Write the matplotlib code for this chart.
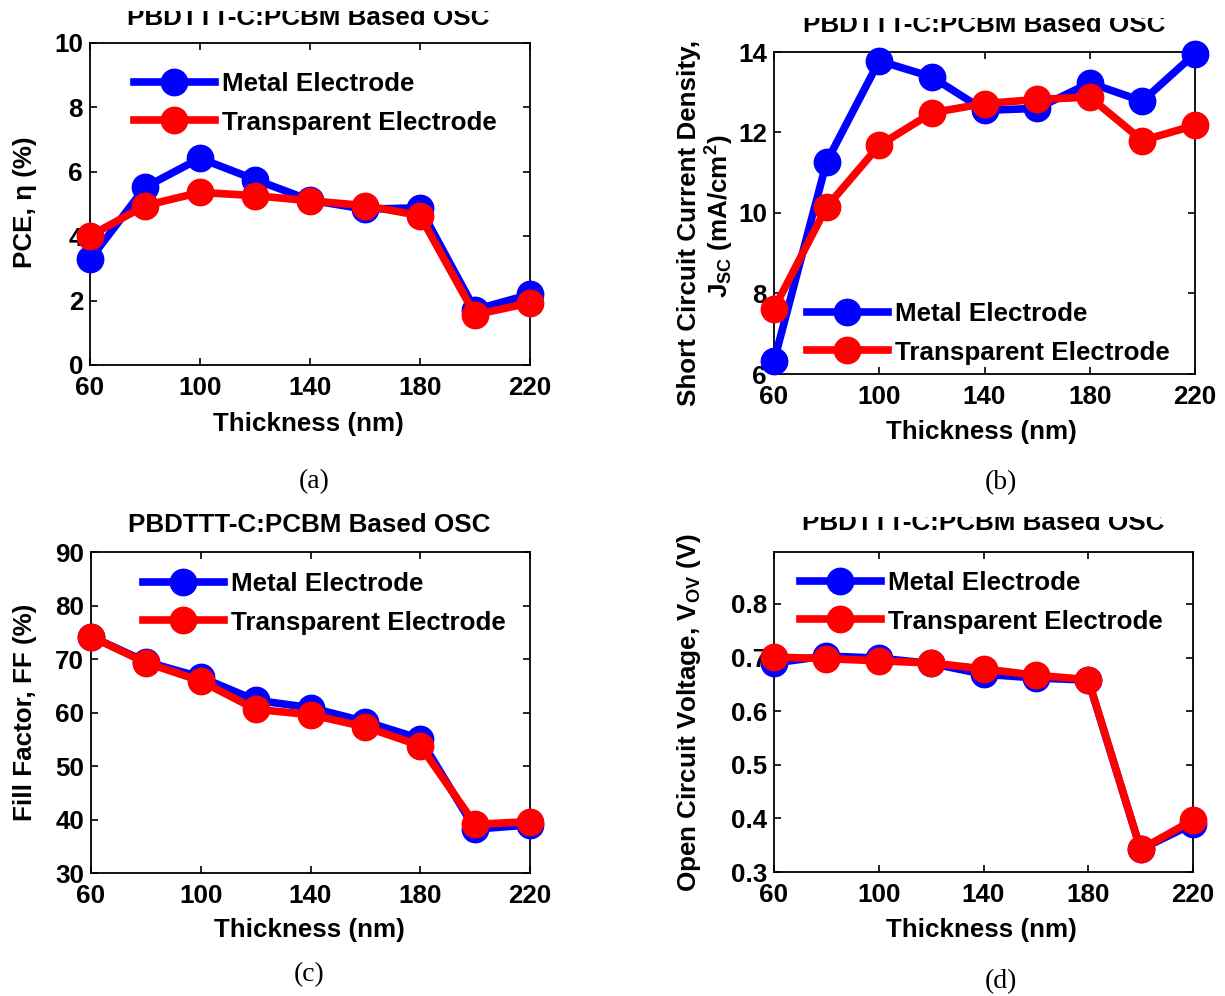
import matplotlib
matplotlib.use("Agg")
import matplotlib.pyplot as plt
from matplotlib.patches import Rectangle

# ---------------- data ----------------
thickness = [60, 80, 100, 120, 140, 160, 180, 200, 220]

pce_metal = [3.28, 5.52, 6.42, 5.76, 5.12, 4.84, 4.88, 1.72, 2.19]
pce_transparent = [4.01, 4.95, 5.36, 5.26, 5.10, 4.95, 4.64, 1.56, 1.93]

jsc_metal = [6.32, 11.27, 13.78, 13.38, 12.55, 12.60, 13.23, 12.78, 13.96]
jsc_transparent = [7.62, 10.15, 11.68, 12.49, 12.72, 12.82, 12.88, 11.80, 12.18]

ff_metal = [74.2, 69.5, 66.6, 62.3, 60.9, 58.3, 55.1, 38.2, 39.0]
ff_transparent = [74.2, 69.3, 65.9, 60.6, 59.6, 57.3, 53.8, 39.1, 39.6]

voc_metal = [0.690, 0.703, 0.699, 0.689, 0.669, 0.662, 0.658, 0.342, 0.390]
voc_transparent = [0.701, 0.698, 0.694, 0.690, 0.679, 0.667, 0.659, 0.342, 0.397]

series_labels = ["Metal Electrode", "Transparent Electrode"]
title_text = "PBDTTT-C:PCBM Based OSC"
x_ticks = [60, 100, 140, 180, 220]

# ---------------- style ----------------
plt.rcParams["font.family"] = ["Liberation Sans", "DejaVu Sans"]
plt.rcParams["font.weight"] = "bold"
plt.rcParams["mathtext.fontset"] = "custom"
plt.rcParams["mathtext.rm"] = "Liberation Sans:bold"
plt.rcParams["mathtext.it"] = "Liberation Sans:bold"
plt.rcParams["mathtext.bf"] = "Liberation Sans:bold"

W, H = 1225, 996
fig = plt.figure(figsize=(W / 100, H / 100), dpi=100)
FS = 18.7


def fx(px):
    return px / W


def fy(py):
    return 1 - py / H


def make_axes(l, t, r, b):
    return fig.add_axes([l / W, 1 - b / H, (r - l) / W, (b - t) / H])


def panel(box, metal, transp, ylim, yticks, yfmt, leg_xy):
    ax = make_axes(*box)
    ax.plot(thickness, metal, "-o", color="#0000FF", lw=5.5, ms=19,
            mec="#0000FF", mfc="#0000FF", clip_on=False, label=series_labels[0], zorder=3)
    ax.plot(thickness, transp, "-o", color="#FF0000", lw=5.5, ms=19,
            mec="#FF0000", mfc="#FF0000", clip_on=False, label=series_labels[1], zorder=4)
    ax.set_xlim(60, 220)
    ax.set_ylim(*ylim)
    ax.set_xticks(x_ticks)
    ax.set_yticks(yticks)
    ax.set_yticklabels([yfmt(v) for v in yticks])
    ax.tick_params(direction="in", top=True, right=True, length=5, width=1.2,
                   labelsize=FS)
    ax.tick_params(axis="x", pad=8)
    ax.tick_params(axis="y", pad=5)
    for sp in ax.spines.values():
        sp.set_linewidth(1.3)
    ax.legend(loc="upper left", bbox_to_anchor=(fx(leg_xy[0]), fy(leg_xy[1])),
              bbox_transform=fig.transFigure, frameon=False, borderpad=0,
              borderaxespad=0, handlelength=3.1, handletextpad=0.27,
              labelspacing=0.56, fontsize=FS)
    return ax


# (a) PCE
panel((90, 43, 530, 365), pce_metal, pce_transparent, (0, 10), [0, 2, 4, 6, 8, 10],
      lambda v: f"{v:d}", (134, 72))
# (b) Jsc
panel((774, 52, 1195, 374), jsc_metal, jsc_transparent, (6, 14), [6, 8, 10, 12, 14],
      lambda v: f"{v:d}", (807, 302))
# (c) FF
panel((91, 552, 530, 873), ff_metal, ff_transparent, (30, 90), [30, 40, 50, 60, 70, 80, 90],
      lambda v: f"{v:d}", (143, 572))
# (d) Voc
panel((774, 552, 1193, 872), voc_metal, voc_transparent, (0.3, 0.897),
      [0.3, 0.4, 0.5, 0.6, 0.7, 0.8], lambda v: f"{v:.1f}", (800, 571))

# titles
for cx, base in [(308, 25), (984, 32), (309, 532), (983, 530)]:
    fig.text(fx(cx), fy(base), title_text, ha="center", va="baseline",
             fontsize=FS, weight="bold")

# x labels
for cx, base in [(308, 431), (981, 439), (309, 937), (981, 937)]:
    fig.text(fx(cx), fy(base), "Thickness (nm)", ha="center", va="baseline",
             fontsize=FS, weight="bold")

# y labels
fig.text(fx(25), fy(202), "PCE, \u03b7 (%)", rotation=90, ha="center", va="center",
         fontsize=FS, weight="bold")
fig.text(fx(25), fy(712), "Fill Factor, FF (%)", rotation=90, ha="center", va="center",
         fontsize=FS, weight="bold")
fig.text(fx(689), fy(223), "Short Circuit Current Density,", rotation=90,
         ha="center", va="center", fontsize=FS, weight="bold")
fig.text(fx(720), fy(216), "$J_{SC}$ (mA/cm$^{2}$)", rotation=90,
         ha="center", va="center", fontsize=FS, weight="bold")
fig.text(fx(689), fy(713), "Open Circuit Voltage, V$_{OV}$ (V)", rotation=90,
         ha="center", va="center", fontsize=FS, weight="bold")

# panel captions
for cx, cy, t in [(314, 482, "(a)"), (1001, 483, "(b)"), (309, 975, "(c)"), (1001, 982, "(d)")]:
    fig.text(fx(cx), fy(cy), t, ha="center", va="center", fontsize=20,
             family=["Liberation Serif", "DejaVu Serif"], weight="normal")

# the reference's titles are clipped at the top (cropped source figure)
for l, t, r, b in [(100, 0, 520, 11), (790, 0, 1175, 18), (790, 500, 1175, 517)]:
    fig.add_artist(Rectangle((fx(l), fy(b)), (r - l) / W, (b - t) / H,
                             transform=fig.transFigure, facecolor="white",
                             edgecolor="none", zorder=10))

fig.savefig("out.png", dpi=100, facecolor="white")
